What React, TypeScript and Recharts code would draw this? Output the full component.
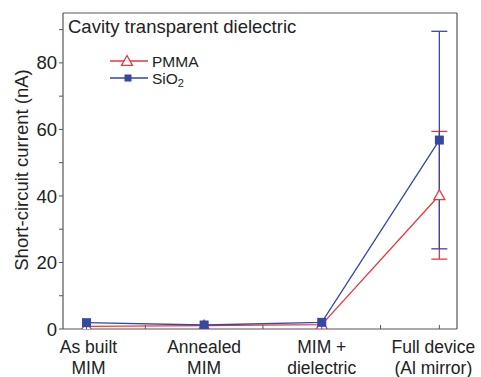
import React from 'react';
import { LineChart, Line, XAxis, YAxis, ErrorBar, Customized } from 'recharts';

const categories = [['As built', 'MIM'], ['Annealed', 'MIM'], ['MIM +', 'dielectric'], ['Full device', '(Al mirror)']];
const pmmaValues = [0.8, 1.0, 1.3, 40.2];
const pmmaErrors = [null, null, null, 19.2];
const sio2Values = [1.9, 1.2, 2.0, 56.8];
const sio2Errors = [null, null, null, 32.7];
const yTicks = [0, 10, 20, 30, 40, 50, 60, 70, 80, 90];
const xTicks = [0, 0.5, 1, 1.5, 2, 2.5, 3];

const data = categories.map((c, i) => ({
  x: i,
  pmma: pmmaValues[i],
  pmmaErr: pmmaErrors[i],
  sio2: sio2Values[i],
  sio2Err: sio2Errors[i],
}));

const RED = '#e6393e';
const BLUE = '#3548a3';
const AXIS = '#555';
const TEXT = '#222';
const FONT = '"Liberation Sans", Arial, sans-serif';

const Triangle = (props: any) => {
  const { cx, cy } = props;
  if (cx == null || cy == null) return null;
  const s = 5.5;
  return (
    <polygon
      points={`${cx},${cy - s} ${cx - s},${cy + s * 0.8} ${cx + s},${cy + s * 0.8}`}
      fill="#fff"
      stroke={RED}
      strokeWidth={1.3}
    />
  );
};

const Square = (props: any) => {
  const { cx, cy } = props;
  if (cx == null || cy == null) return null;
  return <rect x={cx - 4.5} y={cy - 4.5} width={9} height={9} fill={BLUE} />;
};

const XTick = (props: any) => {
  const { x, payload } = props;
  const v = payload.value;
  const isInt = Number.isInteger(v);
  const tx = v === 3 ? x - 6 : v === 0 ? x + 2 : x;
  return (
    <g>
      <line x1={x} x2={x} y1={329} y2={325} stroke={AXIS} strokeWidth={1} />
      {isInt && (
        <text x={tx} y={329} textAnchor="middle" fill={TEXT} fontSize={17.5} fontFamily={FONT}>
          <tspan x={tx} dy={24}>{categories[v][0]}</tspan>
          <tspan x={tx} dy={20.5}>{categories[v][1]}</tspan>
        </text>
      )}
    </g>
  );
};

const Overlay = () => (
  <g>
    <text
      x={0}
      y={0}
      transform="translate(28,170) rotate(-90)"
      textAnchor="middle"
      fill={TEXT}
      fontSize={18.5}
      fontFamily={FONT}
    >
      Short-circuit current (nA)
    </text>
    <text x={68} y={33} fill={TEXT} fontSize={18.5} fontFamily={FONT}>Cavity transparent dielectric</text>
    <line x1={110} x2={148} y1={61} y2={61} stroke={RED} strokeWidth={1.3} />
    <Triangle cx={127} cy={61} />
    <text x={152} y={66.5} fill={TEXT} fontSize={15.5} fontFamily={FONT}>PMMA</text>
    <line x1={110} x2={148} y1={78} y2={78} stroke={BLUE} strokeWidth={1.3} />
    <rect x={124.5} y={74.5} width={7} height={7} fill={BLUE} />
    <text x={152} y={83.5} fill={TEXT} fontSize={15.5} fontFamily={FONT}>
      SiO<tspan fontSize={11} dy={3.5}>2</tspan>
    </text>
  </g>
);

export default function App() {
  return (
    <div style={{ position: 'absolute', left: 0, top: 0, background: '#fff' }}>
      <LineChart
        width={481}
        height={377}
        data={data}
        margin={{ top: 12, right: 23, bottom: 47, left: 62 }}
      >
        <XAxis
          dataKey="x"
          type="number"
          domain={[-0.2, 3.15]}
          ticks={xTicks}
          interval={0}
          height={1}
          tickSize={0}
          tickMargin={0}
          tickLine={false}
          axisLine={{ stroke: AXIS, strokeWidth: 1.2 }}
          tick={<XTick />}
          allowDataOverflow
        />
        <XAxis
          xAxisId="top"
          orientation="top"
          dataKey="x"
          type="number"
          domain={[-0.2, 3.15]}
          height={1}
          tick={false}
          tickLine={false}
          axisLine={{ stroke: AXIS, strokeWidth: 1.2 }}
        />
        <YAxis
          type="number"
          domain={[0, 95]}
          ticks={yTicks}
          interval={0}
          width={1}
          tickSize={4}
          tickMargin={2}
          tickLine={{ stroke: AXIS, strokeWidth: 1 }}
          axisLine={{ stroke: AXIS, strokeWidth: 1.2 }}
          tickFormatter={(v: number) => (v % 20 === 0 ? String(v) : '')}
          tick={{ fill: TEXT, fontSize: 18.5, fontFamily: FONT }}
          allowDataOverflow
        />
        <YAxis
          yAxisId="right"
          orientation="right"
          domain={[0, 95]}
          width={1}
          tick={false}
          tickLine={false}
          axisLine={{ stroke: AXIS, strokeWidth: 1.2 }}
        />
        <Customized component={Overlay} />
        <Line
          dataKey="pmma"
          stroke={RED}
          strokeWidth={1.3}
          dot={<Triangle />}
          activeDot={false}
          isAnimationActive={false}
        >
          <ErrorBar dataKey="pmmaErr" width={8} stroke={RED} strokeWidth={1.3} direction="y" />
        </Line>
        <Line
          dataKey="sio2"
          stroke={BLUE}
          strokeWidth={1.3}
          dot={<Square />}
          activeDot={false}
          isAnimationActive={false}
        >
          <ErrorBar dataKey="sio2Err" width={8} stroke={BLUE} strokeWidth={1.3} direction="y" />
        </Line>
      </LineChart>
    </div>
  );
}
